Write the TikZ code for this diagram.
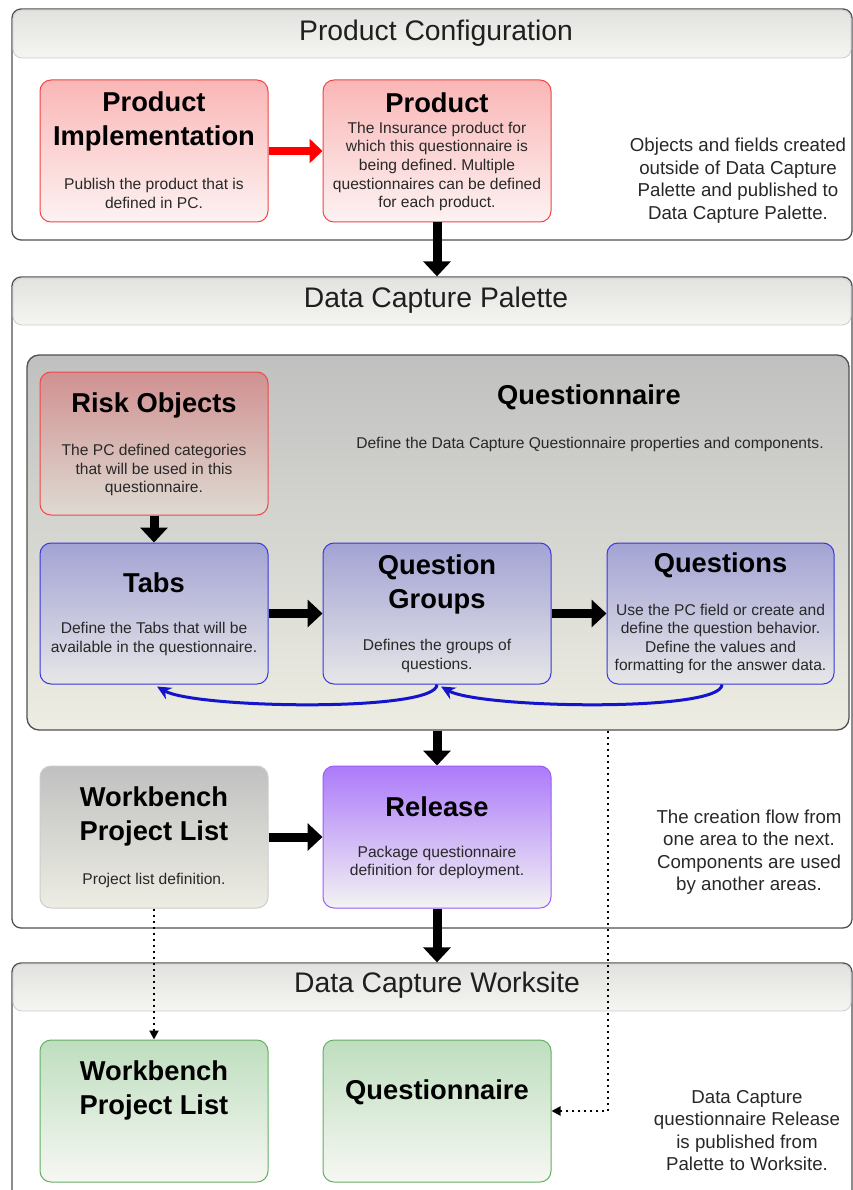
\documentclass[tikz,border=0pt]{standalone}
\usepackage{fontspec}
\setmainfont{Liberation Sans}
\usetikzlibrary{arrows.meta}
\frenchspacing
\definecolor{panelc}{RGB}{80,80,80}
\definecolor{headline}{RGB}{205,205,205}
\definecolor{headtop}{RGB}{226,226,224}
\definecolor{headbot}{RGB}{245,245,241}
\definecolor{descc}{RGB}{40,40,40}
\definecolor{redline}{RGB}{240,70,70}
\definecolor{redtop}{RGB}{250,182,182}
\definecolor{redbot}{RGB}{253,242,242}
\definecolor{risktop}{RGB}{208,145,145}
\definecolor{riskbot}{RGB}{222,218,210}
\definecolor{blueline}{RGB}{55,55,220}
\definecolor{bluetop}{RGB}{163,163,212}
\definecolor{bluebot}{RGB}{230,230,232}
\definecolor{greyline}{RGB}{205,205,205}
\definecolor{greytop}{RGB}{192,192,192}
\definecolor{greybot}{RGB}{237,237,228}
\definecolor{purpline}{RGB}{160,90,245}
\definecolor{purptop}{RGB}{172,122,250}
\definecolor{purpbot}{RGB}{243,243,243}
\definecolor{greenline}{RGB}{100,175,100}
\definecolor{greentop}{RGB}{190,222,190}
\definecolor{greenbot}{RGB}{247,247,243}
\definecolor{conttop}{RGB}{192,192,192}
\definecolor{contbot}{RGB}{237,237,227}
\definecolor{arrred}{RGB}{255,0,0}
\definecolor{arrblue}{RGB}{20,20,205}
\tikzset{
 panel/.style={draw=panelc, line width=1.3pt, rounded corners=9pt, fill=white, inner sep=0pt},
 headband/.style={draw=headline, line width=0.8pt, rounded corners=9pt, top color=headtop, bottom color=headbot, inner sep=0pt},
 headtext/.style={font=\fontsize{28.3}{32}\selectfont, text=black!88, inner sep=0pt},
 container/.style={draw=panelc, line width=1.3pt, rounded corners=12pt, top color=conttop, bottom color=contbot, inner sep=0pt},
 box/.style={rounded corners=11pt, minimum width=228pt, minimum height=142pt, line width=1pt, inner sep=0pt},
 redbox/.style={box, draw=redline, top color=redtop, bottom color=redbot},
 riskbox/.style={box, draw=redline, top color=risktop, bottom color=riskbot},
 bluebox/.style={box, draw=blueline, top color=bluetop, bottom color=bluebot},
 greybox/.style={box, draw=greyline, top color=greytop, bottom color=greybot},
 purpbox/.style={box, draw=purpline, top color=purptop, bottom color=purpbot},
 greenbox/.style={box, draw=greenline, top color=greentop, bottom color=greenbot},
 title/.style={font=\bfseries\fontsize{27.3}{34}\selectfont, align=center, inner sep=0pt},
 desc/.style={font=\fontsize{15.6}{18.6}\selectfont, align=center, text=descc, inner sep=0pt},
 note/.style={font=\fontsize{18.7}{22.5}\selectfont, align=center, text=descc, inner sep=0pt},
 bigarrow/.style={draw=black, line width=9pt, -{Triangle[width=27pt,length=15pt]}},
 redarrow/.style={draw=arrred, line width=8.5pt, -{Triangle[width=24pt,length=13pt]}},
 backarrow/.style={draw=arrblue, line width=3pt, -{Stealth[width=13pt,length=14pt]}},
 dotarrow/.style={draw=black, line width=2pt, dash pattern=on 2pt off 4pt, -{Triangle[width=9pt,length=9pt]}},
}
\begin{document}
\begin{tikzpicture}[x=1pt,y=-1pt]
\useasboundingbox (0,0) rectangle (853,1190);
\clip (0,0) rectangle (853,1190);
% panels
\node[panel, minimum width=840pt, minimum height=231pt] (pc) at (432,124.5) {};
\node[headband, minimum width=838pt, minimum height=48pt] (pchead) at (432,34) {};
\node[headtext] (pctitle) at (436,33) {Product Configuration};

\node[panel, minimum width=840pt, minimum height=651pt] (pal) at (432,602.5) {};
\node[headband, minimum width=838pt, minimum height=47pt] (palhead) at (432,301.5) {};
\node[headtext] (paltitle) at (436,300) {Data Capture Palette};

\node[panel, minimum width=840pt, minimum height=250pt] (ws) at (432,1088) {};
\node[headband, minimum width=838pt, minimum height=47pt] (wshead) at (432,987.5) {};
\node[headtext] (wstitle) at (437,985) {Data Capture Worksite};

% questionnaire container
\node[container, minimum width=822pt, minimum height=375pt] (cont) at (438,542.5) {};
\node[title] (conttitle) at (589,397) {Questionnaire};
\node[desc] (contdesc) at (590,444) {Define the Data Capture Questionnaire properties and components.};

% boxes
\node[redbox] (pi) at (154,151) {};
\node[title] (pititle) at (154,121) {Product\\Implementation};
\node[desc] (pidesc) at (154,193.5) {Publish the product that is\\defined in PC.};

\node[redbox] (prod) at (437,151) {};
\node[title] (prodtitle) at (437,103) {Product};
\node[desc] (proddesc) at (437,166.5) {The Insurance product for\\which this questionnaire is\\being defined. Multiple\\questionnaires can be defined\\for each product.};

\node[note] (pcnote) at (738,180.5) {Objects and fields created\\outside of Data Capture\\Palette and published to\\Data Capture Palette.};

\node[riskbox, minimum height=143pt] (risk) at (154,443.5) {};
\node[title] (risktitle) at (154,405) {Risk Objects};
\node[desc] (riskdesc) at (154,470) {The PC defined categories\\that will be used in this\\questionnaire.};

\node[bluebox, minimum height=141pt] (tabs) at (154,613.5) {};
\node[title] (tabstitle) at (154,583) {Tabs};
\node[desc] (tabsdesc) at (154,639) {Define the Tabs that will be\\available in the questionnaire.};

\node[bluebox, minimum height=141pt] (qg) at (437,613.5) {};
\node[title] (qgtitle) at (437,584) {Question\\Groups};
\node[desc] (qgdesc) at (437,656) {Defines the groups of\\questions.};

\node[bluebox, minimum height=141pt, minimum width=227pt] (qs) at (720.5,613.5) {};
\node[title] (qstitle) at (720.5,565) {Questions};
\node[desc] (qsdesc) at (720.5,639) {Use the PC field or create and\\define the question behavior.\\Define the values and\\formatting for the answer data.};

\node[greybox] (wb) at (154,837) {};
\node[title] (wbtitle) at (154,816.5) {Workbench\\Project List};
\node[desc] (wbdesc) at (154,880) {Project list definition.};

\node[purpbox] (rel) at (437,837) {};
\node[title] (reltitle) at (437,807) {Release};
\node[desc] (reldesc) at (437,862.5) {Package questionnaire\\definition for deployment.};

\node[note] (palnote) at (749,852) {The creation flow from\\one area to the next.\\Components are used\\by another areas.};

\node[greenbox] (wbg) at (154,1111) {};
\node[title] (wbgtitle) at (154,1090.5) {Workbench\\Project List};

\node[greenbox] (qng) at (437,1111) {};
\node[title] (qngtitle) at (437,1092) {Questionnaire};

\node[note] (wsnote) at (747,1130.5) {Data Capture\\questionnaire Release\\is published from\\Palette to Worksite.};

% connectors
\draw[redarrow] (pi.east) -- (prod.west);
\draw[bigarrow] (prod.south) -- (prod.south |- pal.north);
\draw[bigarrow] (risk.south) -- (tabs.north);
\draw[bigarrow] (tabs.east) -- (qg.west);
\draw[bigarrow] (qg.east) -- (qs.west);
\draw[bigarrow] (rel.north |- cont.south) -- (rel.north);
\draw[bigarrow] (wb.east) -- (rel.west);
\draw[bigarrow] (rel.south) -- (rel.south |- ws.north);

\draw[backarrow] ([xshift=1.5pt]qs.south) .. controls ([xshift=1.5pt,yshift=-28pt]qs.south) and ([xshift=43pt,yshift=-24pt]qg.south) .. ([xshift=4pt,yshift=-2pt]qg.south);
\draw[backarrow] (qg.south) .. controls ([yshift=-28pt]qg.south) and ([xshift=41pt,yshift=-24pt]tabs.south) .. ([xshift=3pt,yshift=-2pt]tabs.south);

\path (cont.south) ++(170,0) coordinate (dstart);
\draw[dotarrow] (wb.south) -- (wbg.north);
\draw[dotarrow] (dstart) |- (qng.east);
\end{tikzpicture}
\end{document}
